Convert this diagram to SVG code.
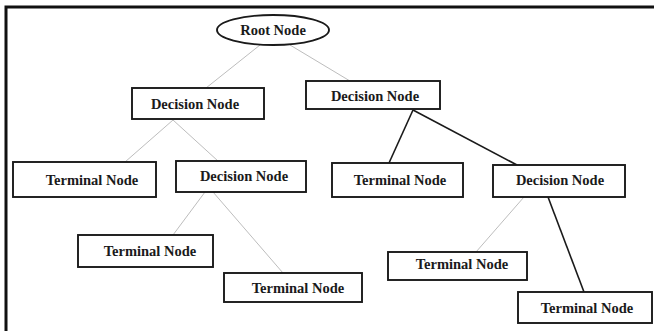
<svg xmlns="http://www.w3.org/2000/svg" width="654" height="331" viewBox="0 0 654 331">
<style>
.box{fill:#fff;stroke:#1a1a1a;stroke-width:1.9}
.t{font-family:"Liberation Serif","Times New Roman",serif;font-weight:bold;font-size:14.5px;fill:#1a1a1a;text-anchor:middle}
.lg{stroke:#bdbdbd;stroke-width:1;fill:none}
.ld{stroke:#1a1a1a;stroke-width:1.6;fill:none}
</style>
<rect x="0" y="0" width="654" height="331" fill="#fff"/>
<path d="M6,331 V7 H654" fill="none" stroke="#111" stroke-width="3"/>
<g id="connectors">
<line class="lg" x1="260" y1="45" x2="206" y2="88"/>
<line class="lg" x1="290" y1="45" x2="350" y2="81"/>
<line class="lg" x1="173" y1="120" x2="125" y2="162"/>
<line class="lg" x1="173" y1="120" x2="218" y2="161"/>
<line class="lg" x1="205" y1="192" x2="173" y2="235"/>
<line class="lg" x1="213" y1="192" x2="283" y2="273"/>
<line class="ld" x1="413" y1="110" x2="389" y2="163"/>
<line class="ld" x1="413" y1="110" x2="517" y2="165"/>
<line class="lg" x1="524" y1="197" x2="476" y2="252"/>
<line class="ld" x1="548" y1="197" x2="584" y2="292"/>
</g>
<g id="root"><ellipse class="box" cx="273" cy="30" rx="56" ry="15"/><text class="t" x="273" y="35">Root Node</text></g>
<g id="decisionL"><rect class="box" x="132" y="88" width="132" height="31"/><text class="t" x="195" y="109">Decision Node</text></g>
<g id="decisionR"><rect class="box" x="306" y="81" width="134" height="28"/><text class="t" x="375" y="101">Decision Node</text></g>
<g id="terminalL1"><rect class="box" x="13" y="162" width="143" height="35"/><text class="t" x="92" y="185">Terminal Node</text></g>
<g id="decisionLL"><rect class="box" x="176" y="161" width="130" height="31"/><text class="t" x="244" y="181">Decision Node</text></g>
<g id="terminalR1"><rect class="box" x="332" y="163" width="131" height="34"/><text class="t" x="400" y="185">Terminal Node</text></g>
<g id="decisionRR"><rect class="box" x="493" y="165" width="132" height="32"/><text class="t" x="560" y="185">Decision Node</text></g>
<g id="terminalLL1"><rect class="box" x="78" y="235" width="135" height="32"/><text class="t" x="150" y="256">Terminal Node</text></g>
<g id="terminalLL2"><rect class="box" x="224" y="273" width="138" height="29"/><text class="t" x="298" y="293">Terminal Node</text></g>
<g id="terminalRR1"><rect class="box" x="388" y="252" width="139" height="28"/><text class="t" x="462" y="269">Terminal Node</text></g>
<g id="terminalRR2"><rect class="box" x="518" y="292" width="134" height="31"/><text class="t" x="587" y="313">Terminal Node</text></g>
</svg>
